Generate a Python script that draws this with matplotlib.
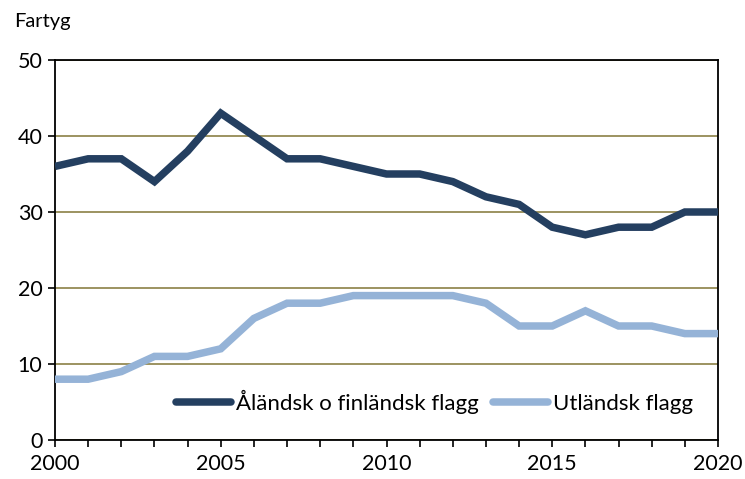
import matplotlib
matplotlib.use("Agg")
import matplotlib.pyplot as plt
from matplotlib.ticker import MultipleLocator

years = list(range(2000, 2021))
aland_fin = [36, 37, 37, 34, 38, 43, 40, 37, 37, 36, 35, 35, 34, 32, 31, 28, 27, 28, 28, 30, 30]
utlandsk = [8, 8, 9, 11, 11, 12, 16, 18, 18, 19, 19, 19, 19, 18, 15, 15, 17, 15, 15, 14, 14]

plt.rcParams['font.family'] = ['Lato', 'DejaVu Sans']

fig = plt.figure(figsize=(7.45, 4.79), dpi=100)
ax = fig.add_axes([55 / 745, 1 - 440 / 479, 663 / 745, 380 / 479])

ax.plot(years, aland_fin, color='#243F60', lw=5.4, solid_capstyle='butt',
        solid_joinstyle='miter', label='Åländsk o finländsk flagg', zorder=3)
ax.plot(years, utlandsk, color='#95B3D7', lw=5.4, solid_capstyle='butt',
        solid_joinstyle='miter', label='Utländsk flagg', zorder=3)

ax.set_xlim(2000, 2020)
ax.set_ylim(0, 50)
ax.set_yticks(range(0, 51, 10))
ax.set_xticks(range(2000, 2021, 5))
ax.xaxis.set_minor_locator(MultipleLocator(1))
ax.tick_params(axis='both', which='both', direction='out', length=5, width=1.2,
               labelsize=15.5, color='black')
ax.tick_params(axis='x', pad=5)
ax.tick_params(axis='y', pad=4)
ax.grid(axis='y', color='#948A54', lw=1.3, zorder=1)
for s in ax.spines.values():
    s.set_color('black')
    s.set_linewidth(1.3)

fig.text(14 / 745, 1 - 21 / 479, 'Fartyg', fontsize=14.5, va='center', ha='left')

leg = ax.legend(loc='center left', bbox_to_anchor=(0.183, 0.1), ncol=2, frameon=False,
                fontsize=16, handlelength=2.45, handletextpad=0.23, columnspacing=0.65,
                borderpad=0, borderaxespad=0)
for h in leg.get_lines():
    h.set_solid_capstyle('round')

fig.savefig('out.png', dpi=100)
